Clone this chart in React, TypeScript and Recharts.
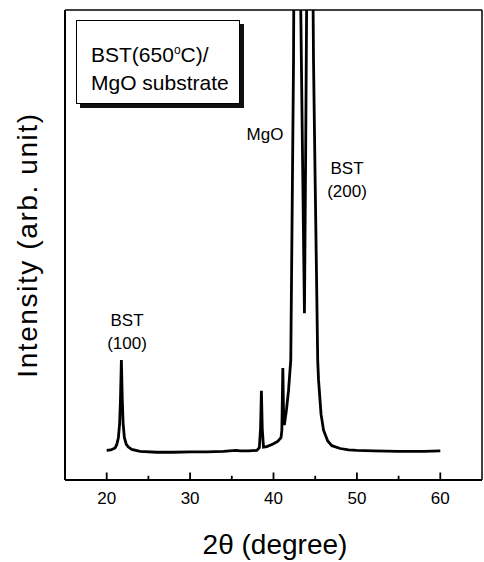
import { LineChart, Line, XAxis, YAxis, ReferenceLine } from 'recharts';

// 2θ positions (degree) and intensity (arb. unit, 0-100 = full plot height; >100 is clipped)
const TWO_THETA = [
  20, 20.5, 21, 21.2, 21.4, 21.55, 21.65, 21.76, 21.87, 21.97, 22.12, 22.35, 22.6, 23, 24, 26, 28, 30, 32, 34,
  35.5, 36, 37, 38, 38.3, 38.45, 38.55, 38.65, 38.8, 39.2, 39.6, 40, 40.5, 40.9, 41.0, 41.05, 41.12, 41.2, 41.3,
  41.55, 41.8, 42.07, 42.2, 42.4, 42.8, 43.27, 43.5, 43.71, 43.85, 43.97, 44.4, 44.75, 44.8, 45.0, 45.15, 45.3,
  45.4, 45.7, 46.0, 46.5, 47, 48, 49, 50, 52, 55, 58, 60,
];
const INTENSITY = [
  6.3, 6.4, 6.8, 7.5, 9.0, 12, 17, 25.5, 17, 12, 9.0, 7.6, 7.0, 6.5, 6.1, 5.9, 5.9, 6.0, 6.0, 6.1,
  6.3, 6.2, 6.2, 6.3, 6.9, 11, 19, 11, 7.0, 7.1, 7.4, 7.7, 8.2, 9.0, 10.5, 16, 23.8, 15, 11.7,
  14.9, 19, 25.5, 50, 89, 250, 100, 66, 35.5, 68, 100, 260, 100, 89, 63, 44.5, 25.5,
  21.3, 14, 10.6, 8.3, 7.3, 6.7, 6.4, 6.3, 6.2, 6.1, 6.1, 6.2,
];
const X_TICKS = [20, 25, 30, 35, 40, 45, 50, 55, 60];

const data = TWO_THETA.map((t, i) => ({ t, v: INTENSITY[i] }));

const FONT = '"Liberation Sans", Arial, sans-serif';

// labels only on the tens, minor ticks at the 5s stay unlabelled
const XTick = (props: any) => {
  const { x, y, payload } = props;
  if (payload.value % 10 !== 0) return <g />;
  return (
    <text x={x} y={y + 18} textAnchor="middle" dominantBaseline="central" fontSize={17} fontFamily={FONT} fill="#000">
      {payload.value}
    </text>
  );
};

const note: React.CSSProperties = {
  position: 'absolute',
  transform: 'translate(-50%, -50%)',
  fontFamily: FONT,
  fontSize: 17,
  lineHeight: '23px',
  textAlign: 'center',
  whiteSpace: 'nowrap',
  color: '#000',
};

export default function App() {
  return (
    <div style={{ position: 'absolute', left: 0, top: 0, width: 484, height: 562, background: '#fff' }}>
      <LineChart width={484} height={562} data={data} margin={{ top: 10, right: 2, bottom: 81, left: 64 }}>
        <XAxis
          dataKey="t"
          type="number"
          domain={[15, 65]}
          ticks={X_TICKS}
          interval={0}
          height={1}
          tickSize={0}
          tickMargin={0}
          tickLine={false}
          tick={<XTick />}
          axisLine={{ stroke: '#000', strokeWidth: 2 }}
          allowDataOverflow
        />
        <YAxis
          type="number"
          domain={[0, 100]}
          width={1}
          tick={false}
          tickLine={false}
          axisLine={{ stroke: '#000', strokeWidth: 2 }}
          allowDataOverflow
        />
        <ReferenceLine y={100} stroke="#000" strokeWidth={1.5} />
        <ReferenceLine y={0} stroke="#000" strokeWidth={2} />
        <ReferenceLine x={15} stroke="#000" strokeWidth={2} />
        <ReferenceLine x={65} stroke="#000" strokeWidth={1.5} />
        {/* inward tick marks: tens longer than fives */}
        {X_TICKS.map((t) => (
          <ReferenceLine
            key={t}
            segment={[{ x: t, y: 0 }, { x: t, y: t % 10 === 0 ? 1.6 : 0.9 }]}
            stroke="#000"
            strokeWidth={1.8}
          />
        ))}
        <Line
          dataKey="v"
          type="linear"
          stroke="#000"
          strokeWidth={2.8}
          dot={false}
          isAnimationActive={false}
        />
      </LineChart>

      <div
        style={{
          position: 'absolute',
          left: 76,
          top: 20,
          width: 164,
          height: 84,
          border: '1.5px solid #000',
          boxShadow: '4px 4px 0 #111',
          background: '#fff',
          fontFamily: FONT,
          fontSize: 21,
          lineHeight: '28px',
          paddingLeft: 14,
          paddingTop: 15,
          boxSizing: 'border-box',
          color: '#000',
        }}
      >
        BST(650<sup style={{ fontSize: 12, verticalAlign: 8 }}>o</sup>C)/
        <br />
        MgO substrate
      </div>

      <div style={{ ...note, left: 127, top: 332 }}>BST<br />(100)</div>
      <div style={{ ...note, left: 265, top: 134 }}>MgO</div>
      <div style={{ ...note, left: 347, top: 180 }}>BST<br />(200)</div>

      <div style={{ ...note, left: 275, top: 545, fontSize: 28, lineHeight: '32px' }}>2θ (degree)</div>
      <div
        style={{
          ...note,
          left: 28,
          top: 245,
          fontSize: 28,
          lineHeight: '32px',
          letterSpacing: 1.6,
          transform: 'translate(-50%, -50%) rotate(-90deg)',
        }}
      >
        Intensity (arb. unit)
      </div>
    </div>
  );
}
